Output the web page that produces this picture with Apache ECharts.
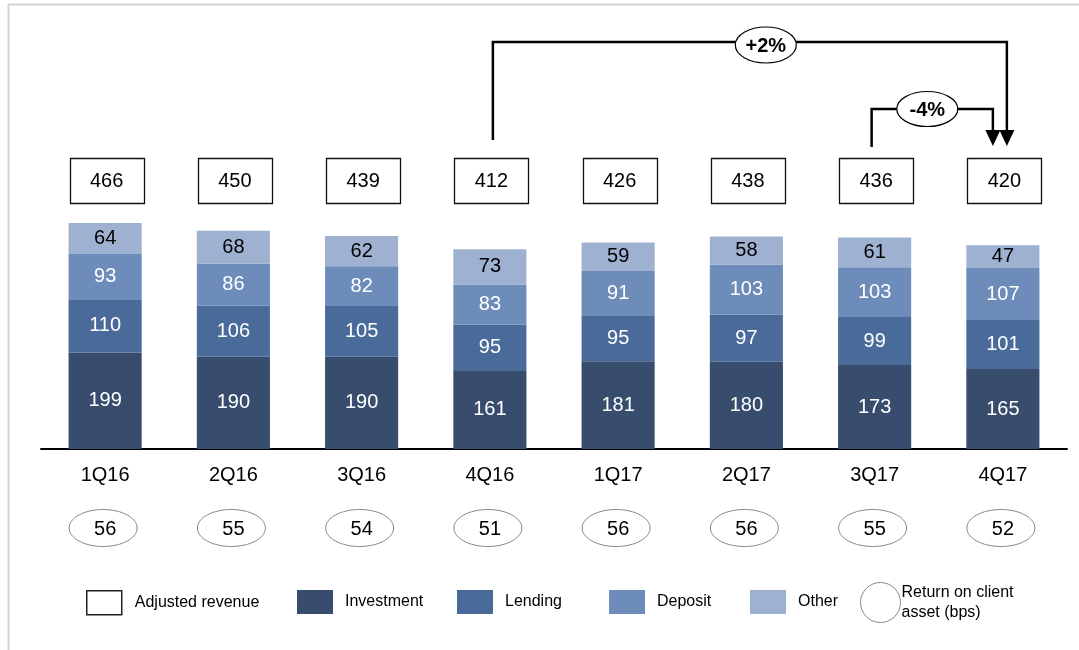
<!DOCTYPE html>
<html>
<head>
<meta charset="utf-8">
<script src="https://cdn.jsdelivr.net/npm/echarts@6/dist/echarts.min.js"></script>
<style>
html,body{margin:0;padding:0;background:#fff;}
#c{width:1079px;height:650px;}
</style>
</head>
<body>
<div id="c"></div>
<script>
const categories = ['1Q16','2Q16','3Q16','4Q16','1Q17','2Q17','3Q17','4Q17'];
const investment = [199,190,190,161,181,180,173,165];
const lending    = [110,106,105,95,95,97,99,101];
const deposit    = [93,86,82,83,91,103,103,107];
const other      = [64,68,62,73,59,58,61,47];
const adjustedRevenue = [466,450,439,412,426,438,436,420];
const returnOnAssets  = [56,55,54,51,56,56,55,52];
const changeFrom   = [3,6];
const changeTo     = [7,7];
const changeLabels = ['+2%','-4%'];

const FONT = 'Liberation Sans, Arial, sans-serif';
const COLORS = {Investment:'#384c6e', Lending:'#4a6a9a', Deposit:'#6d8cba', Other:'#9eb1d0'};

const chart = echarts.init(document.getElementById('c'), null, {renderer:'canvas'});

function barSeries(name, data, labelColor){
  return {
    name, type:'bar', stack:'rev', data, barWidth:'57%',
    itemStyle:{color:COLORS[name], borderWidth:0},
    label:{show:true, position:'inside', color:labelColor, fontSize:20, fontFamily:FONT},
    emphasis:{disabled:true}
  };
}

function legendItem(name, left, top, extra){
  return Object.assign({
    left, top, padding:0, selectedMode:false,
    itemWidth:36, itemHeight:24,
    textStyle:{fontFamily:FONT, fontSize:16, color:'#000', padding:[0,0,0,7]},
  }, extra);
}

const option = {
  animation:false,
  backgroundColor:'#fff',
  grid:{left:41, right:12, top:158, bottom:201},
  xAxis:{
    type:'category', data:categories,
    axisLine:{lineStyle:{color:'#000', width:2}},
    axisTick:{show:false},
    axisLabel:{fontSize:20, color:'#000', fontFamily:FONT, margin:16}
  },
  yAxis:{type:'value', min:0, max:600, show:false, splitLine:{show:false}},
  legend:[
    legendItem('Adjusted revenue', 86, 590, {data:[{name:'Adjusted revenue', icon:'rect', itemStyle:{color:'#fff', borderColor:'#222', borderWidth:1.5}}], itemWidth:35, textStyle:{fontFamily:FONT, fontSize:16, color:'#000', padding:[0,0,0,8]}}),
    legendItem('Investment', 297, 590, {data:[{name:'Investment', icon:'rect', itemStyle:{borderWidth:0}}], textStyle:{fontFamily:FONT, fontSize:16, color:'#000', padding:[0,0,6,7]}}),
    legendItem('Lending', 457, 590, {data:[{name:'Lending', icon:'rect', itemStyle:{borderWidth:0}}]}),
    legendItem('Deposit', 609, 590, {data:[{name:'Deposit', icon:'rect', itemStyle:{borderWidth:0}}]}),
    legendItem('Other', 750, 590, {data:[{name:'Other', icon:'rect', itemStyle:{borderWidth:0}}]}),
    legendItem('Return', 860, 582, {
      data:[{name:'Return on client asset (bps)', icon:'circle', itemStyle:{color:'#fff', borderColor:'#888', borderWidth:1}}],
      itemWidth:40, itemHeight:40,
      formatter:()=>'Return on client\nasset (bps)',
      textStyle:{fontFamily:FONT, fontSize:16, color:'#000', lineHeight:20, padding:[0,0,0,-4]}
    })
  ],
  graphic:[
    {type:'line', shape:{x1:8.5, y1:4, x2:8.5, y2:650}, style:{stroke:'#d4d4d4', lineWidth:2}, silent:true},
    {type:'line', shape:{x1:8, y1:4.5, x2:1079, y2:4.5}, style:{stroke:'#d4d4d4', lineWidth:2}, silent:true}
  ],
  series:[
    barSeries('Investment', investment, '#fff'),
    barSeries('Lending', lending, '#fff'),
    barSeries('Deposit', deposit, '#fff'),
    barSeries('Other', other, '#000'),
    {
      name:'Adjusted revenue', type:'custom', clip:false,
      data: adjustedRevenue.map((v,i)=>[i,v]),
      itemStyle:{color:'#fff'},
      renderItem:(params, api)=>{
        const p = api.coord([api.value(0), 0]);
        const cx = p[0] + 1.5;
        const top = params.coordSys.y;
        return {
          type:'group',
          children:[
            {type:'rect', shape:{x:Math.round(cx-37)+0.5, y:top+0.5, width:74, height:45},
             style:{fill:'#fff', stroke:'#111', lineWidth:1.3}},
            {type:'text', style:{text:String(api.value(1)), x:cx, y:top+23, align:'center', verticalAlign:'middle',
             fontSize:20, fontFamily:FONT, fill:'#000'}}
          ]
        };
      }
    },
    {
      name:'Return on client asset (bps)', type:'custom', clip:false,
      data: returnOnAssets.map((v,i)=>[i,v]),
      itemStyle:{color:'#fff'},
      renderItem:(params, api)=>{
        const p = api.coord([api.value(0), 0]);
        const cx = p[0] - 2;
        const cy = p[1] + 79;
        return {
          type:'group',
          children:[
            {type:'ellipse', shape:{cx, cy, rx:34, ry:18.5}, style:{fill:'#fff', stroke:'#888', lineWidth:1}},
            {type:'text', style:{text:String(api.value(1)), x:cx+2, y:cy+1, align:'center', verticalAlign:'middle',
             fontSize:20, fontFamily:FONT, fill:'#000'}}
          ]
        };
      }
    },
    {
      name:'Change', type:'custom', clip:false, silent:true,
      data: changeFrom.map((f,i)=>[f, changeTo[i]]),
      renderItem:(params, api)=>{
        const from = api.value(0), to = api.value(1);
        const outer = (to - from) > 1;
        const top = params.coordSys.y;
        const x1 = api.coord([from,0])[0] + (outer ? 3 : -3);
        const x2 = api.coord([to,0])[0] + (outer ? 4 : -10);
        const y = outer ? top - 116 : top - 49;
        const y0 = outer ? top - 18 : top - 11;
        const tip = top - 12;
        const lx = x1 + (x2 - x1) * (outer ? 0.531 : 0.459);
        const ly = y + (outer ? 3 : 0);
        return {
          type:'group',
          children:[
            {type:'polyline', shape:{points:[[x1,y0],[x1,y],[x2,y],[x2,tip-14]]},
             style:{stroke:'#000', lineWidth:2.5, fill:null}},
            {type:'polygon', shape:{points:[[x2-7.5,tip-16],[x2+7.5,tip-16],[x2,tip]]}, style:{fill:'#000'}},
            {type:'ellipse', shape:{cx:lx, cy:ly, rx:30.5, ry:outer?18:17.5}, style:{fill:'#fff', stroke:'#000', lineWidth:1.2}},
            {type:'text', style:{text:changeLabels[params.dataIndex], x:lx, y:ly+1, align:'center', verticalAlign:'middle',
             fontSize:20, fontWeight:'bold', fontFamily:FONT, fill:'#000'}}
          ]
        };
      }
    }
  ]
};
chart.setOption(option);
</script>
</body>
</html>
